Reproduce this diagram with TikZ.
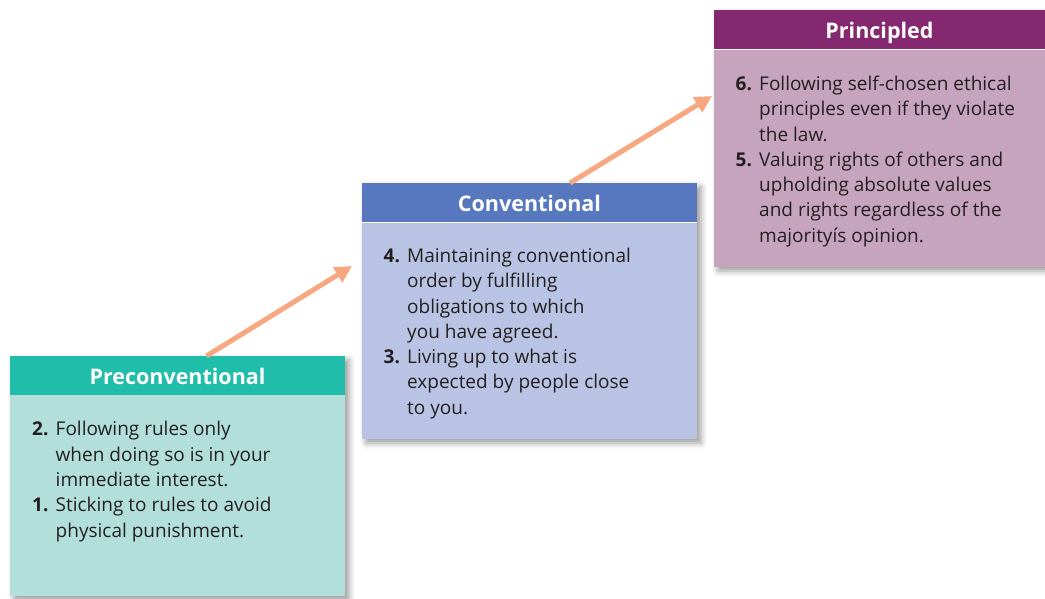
\documentclass[tikz,border=0pt]{standalone}
\usepackage{fontspec}
\setmainfont{Open Sans}
\usetikzlibrary{arrows.meta,shadows.blur}
\definecolor{tealH}{HTML}{20BDAA}
\definecolor{tealB}{HTML}{B3DFDA}
\definecolor{blueH}{HTML}{5778BF}
\definecolor{blueB}{HTML}{B9C3E3}
\definecolor{purpH}{HTML}{84296F}
\definecolor{purpB}{HTML}{C7A4BE}
\definecolor{arrowc}{HTML}{F7A880}
\definecolor{txt}{HTML}{231F20}
\newcommand{\stagelist}[1]{\begin{tabular}[t]{@{}p{23.5pt}@{}l@{}}#1\end{tabular}}
\tikzset{
  stageshadow/.style={blur shadow={shadow xshift=4pt,shadow yshift=-4pt,shadow blur radius=6pt,shadow opacity=40}},
  stageheader/.style={anchor=north west, minimum height=39.5pt, inner sep=0pt, outer sep=0pt, text=white,
     text height=18pt, text depth=0pt,
     font=\bfseries\fontsize{21.5}{24}\selectfont},
  stagebody/.style={anchor=north west, inner sep=0pt, outer sep=0pt},
  stagetext/.style={anchor=base west, inner sep=0pt, text=txt, font=\fontsize{19}{25.3}\selectfont},
  stagearrow/.style={draw=arrowc, line width=5pt, -{Triangle[length=17pt,width=17pt]}}
}
\begin{document}
\begin{tikzpicture}[x=1pt,y=1pt]
\useasboundingbox (0,0) rectangle (1045,599);
% shadows
\fill[white,stageshadow] (10,3) rectangle (345,243);
\fill[white,stageshadow] (362,160) rectangle (697,416);
\fill[white,stageshadow] (714,332) rectangle (1045,589);
% Preconventional
\node[stagebody, fill=tealB, minimum width=335pt, minimum height=201pt] (b1) at (10,204) {};
\node[stageheader, fill=tealH, minimum width=335pt] (h1) at (10,243) {Preconventional};
\node[stagetext] (t1) at (32,163) {\stagelist{%
\textbf{2.} & Following rules only\\
 & when doing so is in your\\
 & immediate interest.\\
\textbf{1.} & Sticking to rules to avoid\\
 & physical punishment.}};
% Conventional
\node[stagebody, fill=blueB, minimum width=335pt, minimum height=216pt] (b2) at (362,376) {};
\node[stageheader, fill=blueH, minimum width=335pt] (h2) at (362,416) {Conventional};
\node[stagetext] (t2) at (383.5,336.5) {\stagelist{%
\textbf{4.} & Maintaining conventional\\
 & order by fulfilling\\
 & obligations to which\\
 & you have agreed.\\
\textbf{3.} & Living up to what is\\
 & expected by people close\\
 & to you.}};
% Principled
\node[stagebody, fill=purpB, minimum width=331pt, minimum height=217pt] (b3) at (714,549) {};
\node[stageheader, fill=purpH, minimum width=331pt] (h3) at (714,589) {Principled};
\node[stagetext] (t3) at (735.5,508.5) {\stagelist{%
\textbf{6.} & Following self-chosen ethical\\
 & principles even if they violate\\
 & the law.\\
\textbf{5.} & Valuing rights of others and\\
 & upholding absolute values\\
 & and rights regardless of the\\
 & majorityís opinion.}};
% arrows
\coordinate (a1s) at ([xshift=-(175-204)*1pt]h1.north);
\coordinate (a1e) at (352,333);
\coordinate (a2s) at ([xshift=(570-529.5)*1pt]h2.north);
\coordinate (a2e) at (712,503);
\draw[stagearrow] (a1s) -- (a1e);
\draw[stagearrow] (a2s) -- (a2e);
\end{tikzpicture}
\end{document}
